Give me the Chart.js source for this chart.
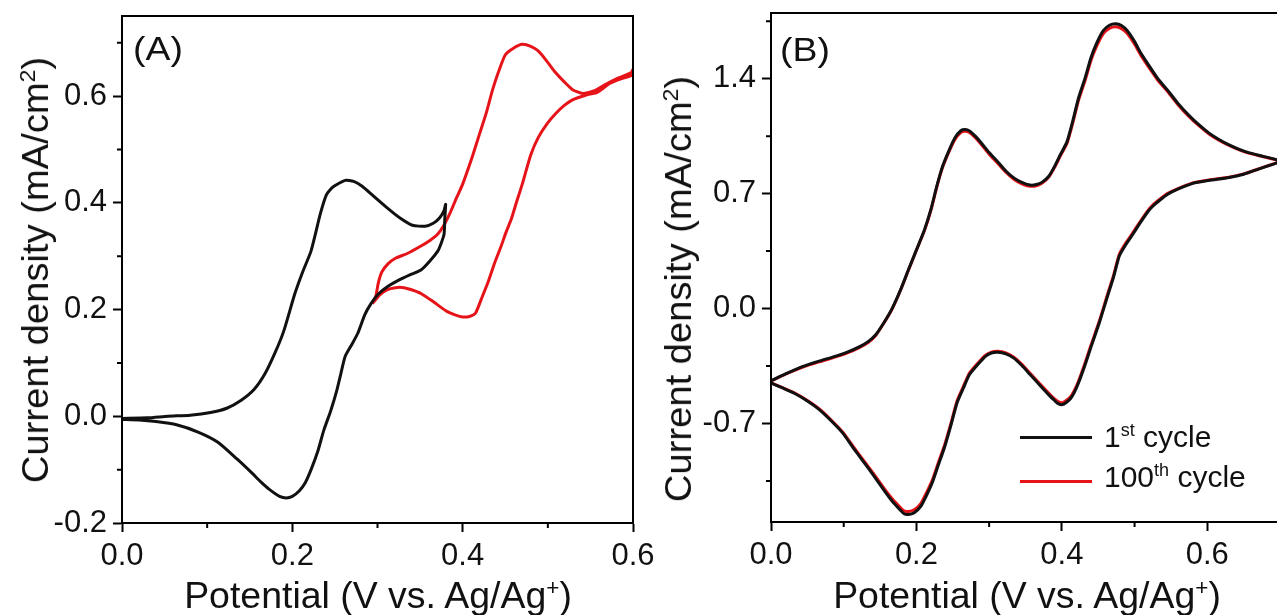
<!DOCTYPE html>
<html>
<head>
<meta charset="utf-8">
<script src="https://cdn.jsdelivr.net/npm/chart.js@4.4.0/dist/chart.umd.min.js"></script>
<style>
  html, body { margin: 0; padding: 0; width: 1277px; height: 615px; overflow: hidden; background: #fff; }
  body { position: relative; font-family: "Liberation Sans", Arial, sans-serif; color: #111; }
  canvas { position: absolute; top: 0; }
  #chartA { left: 0; }
  #chartB { left: 640px; }
  .lbl { position: absolute; white-space: nowrap; line-height: 1; }
  .title { font-size: 36px; }
  .ytitle { transform: translate(-50%, -50%) rotate(-90deg) scaleX(1.06); }
  .xtitle { transform: translate(-50%, -50%) scaleX(1.04); }
  .panel { font-size: 34px; transform: scaleX(1.1); transform-origin: left top; }
  .legend { font-size: 30px; }
  .legend .line { position: absolute; width: 72px; height: 3px; }
  sup { font-size: 60%; vertical-align: 0.6em; line-height: 0; }
</style>
</head>
<body>
<canvas id="chartA" width="680" height="615"></canvas>
<canvas id="chartB" width="645" height="615"></canvas>

<div class="lbl title ytitle" style="left:36px; top:270px;">Current density (mA/cm<sup>2</sup>)</div>
<div class="lbl title xtitle" style="left:378px; top:596px;">Potential (V vs. Ag/Ag<sup>+</sup>)</div>
<div class="lbl title ytitle" style="left:679px; top:289px;">Current density (mA/cm<sup>2</sup>)</div>
<div class="lbl title xtitle" style="left:1027px; top:596px;">Potential (V vs. Ag/Ag<sup>+</sup>)</div>
<div class="lbl panel" style="left:133px; top:31px;">(A)</div>
<div class="lbl panel" style="left:780px; top:32px;">(B)</div>

<div class="legend">
  <div class="line" style="left:1020px; top:436px; background:#111;"></div>
  <div class="lbl" style="left:1104px; top:422px;">1<sup>st</sup> cycle</div>
  <div class="line" style="left:1020px; top:480px; background:rgb(230,20,25);"></div>
  <div class="lbl" style="left:1104px; top:462px;">100<sup>th</sup> cycle</div>
</div>

<script>
// ---- panel A: potential (V) and current density (mA/cm2) ----
var potA1 = [0, 0.03, 0.054, 0.08, 0.104, 0.123, 0.14, 0.155, 0.168, 0.18, 0.19, 0.203, 0.212, 0.222, 0.233, 0.24, 0.248, 0.262, 0.272, 0.282, 0.295, 0.311, 0.326, 0.341, 0.356, 0.366, 0.373, 0.378, 0.38,
             0.379, 0.378, 0.371, 0.361, 0.351, 0.338, 0.326, 0.312, 0.301, 0.292, 0.285, 0.277, 0.27, 0.262, 0.257, 0.252, 0.245, 0.237, 0.23, 0.222, 0.215, 0.208, 0.2, 0.193, 0.185, 0.173, 0.163, 0.153, 0.135, 0.113, 0.09, 0.064, 0.04, 0.02, 0];
var curA1 = [-0.004, -0.003, 0.0, 0.002, 0.007, 0.015, 0.03, 0.05, 0.08, 0.12, 0.16, 0.23, 0.27, 0.31, 0.38, 0.415, 0.43, 0.442, 0.44, 0.431, 0.413, 0.391, 0.372, 0.358, 0.356, 0.362, 0.372, 0.385, 0.397,
             0.37, 0.34, 0.31, 0.29, 0.274, 0.265, 0.256, 0.243, 0.229, 0.21, 0.19, 0.156, 0.135, 0.112, 0.08, 0.047, 0.01, -0.026, -0.065, -0.1, -0.125, -0.14, -0.15, -0.153, -0.15, -0.137, -0.123, -0.107, -0.08, -0.049, -0.03, -0.016, -0.01, -0.007, -0.006];

var potA2 = [0.294, 0.298, 0.301, 0.305, 0.312, 0.321, 0.335, 0.35, 0.362, 0.37, 0.378, 0.385, 0.393, 0.4, 0.41, 0.42, 0.428, 0.435, 0.442, 0.45, 0.46, 0.47, 0.48, 0.489, 0.499, 0.509, 0.519, 0.529, 0.541, 0.555, 0.568, 0.583, 0.598, 0.6,
             0.6, 0.585, 0.573, 0.558, 0.545, 0.529, 0.519, 0.509, 0.499, 0.489, 0.48, 0.47, 0.463, 0.457, 0.451, 0.445, 0.437, 0.43, 0.422, 0.415, 0.408, 0.4, 0.391, 0.381, 0.366, 0.351, 0.34, 0.331, 0.321, 0.311, 0.303, 0.297, 0.294];
var curA2 = [0.211, 0.225, 0.25, 0.27, 0.285, 0.296, 0.305, 0.318, 0.33, 0.34, 0.358, 0.38, 0.41, 0.435, 0.48, 0.53, 0.57, 0.611, 0.645, 0.677, 0.69, 0.697, 0.693, 0.684, 0.665, 0.644, 0.627, 0.612, 0.605, 0.61, 0.622, 0.634, 0.644, 0.65,
             0.64, 0.632, 0.624, 0.607, 0.602, 0.593, 0.582, 0.567, 0.548, 0.523, 0.49, 0.435, 0.4, 0.369, 0.345, 0.318, 0.285, 0.252, 0.22, 0.193, 0.187, 0.186, 0.19, 0.197, 0.214, 0.23, 0.237, 0.241, 0.241, 0.237, 0.228, 0.217, 0.211];

// ---- panel B: 1st and 100th cycle ----
var potB = [0, 0.02, 0.044, 0.066, 0.088, 0.105, 0.122, 0.134, 0.144, 0.155,
            0.166, 0.178, 0.189, 0.2, 0.211, 0.22, 0.228, 0.236, 0.245, 0.253,
            0.261, 0.267, 0.273, 0.281, 0.289, 0.3, 0.312, 0.323, 0.334, 0.345,
            0.356, 0.365, 0.373, 0.382, 0.39, 0.398, 0.407, 0.415, 0.423, 0.432,
            0.44, 0.448, 0.457, 0.466, 0.474, 0.482, 0.49, 0.5, 0.509, 0.518,
            0.532, 0.546, 0.56, 0.574, 0.588, 0.602, 0.616, 0.63, 0.644, 0.658,
            0.677, 0.7,
            0.7, 0.67, 0.65, 0.63, 0.602, 0.58, 0.558, 0.545, 0.535, 0.525,
            0.518, 0.507, 0.496, 0.488, 0.479, 0.471, 0.463, 0.452, 0.44, 0.432,
            0.423, 0.417, 0.412, 0.406, 0.401, 0.395, 0.39, 0.384, 0.37, 0.356,
            0.345, 0.334, 0.323, 0.312, 0.303, 0.295, 0.285, 0.273, 0.265, 0.256,
            0.248, 0.239, 0.23, 0.222, 0.214, 0.206, 0.197, 0.189, 0.183, 0.178,
            0.167, 0.155, 0.14, 0.127, 0.113, 0.099, 0.083, 0.066, 0.05, 0.032,
            0.015, 0];
var curB1 = [-0.441, -0.398, -0.352, -0.32, -0.291, -0.265, -0.232, -0.2, -0.16, -0.088,
             -0.005, 0.112, 0.236, 0.357, 0.478, 0.605, 0.745, 0.866, 0.965, 1.04,
             1.083, 1.09, 1.082, 1.05, 1.01, 0.95, 0.893, 0.838, 0.796, 0.768,
             0.752, 0.755, 0.77, 0.806, 0.866, 0.938, 1.015, 1.142, 1.284, 1.405,
             1.527, 1.618, 1.693, 1.727, 1.735, 1.724, 1.692, 1.626, 1.553, 1.492,
             1.4, 1.327, 1.248, 1.18, 1.121, 1.07, 1.03, 0.997, 0.97, 0.948,
             0.927, 0.9,
             0.895, 0.848, 0.818, 0.798, 0.78, 0.762, 0.724, 0.695, 0.661, 0.623,
             0.588, 0.517, 0.442, 0.39, 0.32, 0.19, 0.078, -0.08, -0.235, -0.342,
             -0.452, -0.512, -0.548, -0.572, -0.585, -0.579, -0.56, -0.535, -0.468, -0.4,
             -0.347, -0.302, -0.276, -0.266, -0.271, -0.291, -0.338, -0.402, -0.48, -0.572,
             -0.702, -0.84, -0.955, -1.058, -1.137, -1.205, -1.243, -1.254, -1.25, -1.228,
             -1.175, -1.104, -1.01, -0.932, -0.848, -0.76, -0.685, -0.614, -0.563, -0.516,
             -0.482, -0.453];
var curB100 = [-0.441, -0.4, -0.357, -0.325, -0.296, -0.27, -0.236, -0.205, -0.164, -0.09,
               -0.007, 0.11, 0.234, 0.355, 0.475, 0.6, 0.74, 0.86, 0.957, 1.03,
               1.072, 1.08, 1.072, 1.04, 1.0, 0.94, 0.884, 0.83, 0.788, 0.76,
               0.745, 0.748, 0.764, 0.8, 0.86, 0.93, 1.005, 1.13, 1.27, 1.39,
               1.511, 1.6, 1.675, 1.708, 1.716, 1.705, 1.675, 1.61, 1.54, 1.48,
               1.39, 1.318, 1.24, 1.173, 1.115, 1.065, 1.025, 0.993, 0.966, 0.945,
               0.925, 0.9,
               0.895, 0.85, 0.82, 0.8, 0.783, 0.765, 0.728, 0.7, 0.667, 0.63,
               0.595, 0.525, 0.451, 0.4, 0.33, 0.2, 0.089, -0.07, -0.224, -0.33,
               -0.441, -0.5, -0.537, -0.56, -0.573, -0.567, -0.55, -0.525, -0.46, -0.393,
               -0.34, -0.296, -0.27, -0.26, -0.265, -0.284, -0.33, -0.393, -0.47, -0.561,
               -0.69, -0.827, -0.94, -1.043, -1.12, -1.188, -1.225, -1.236, -1.232, -1.212,
               -1.16, -1.092, -1.0, -0.923, -0.84, -0.754, -0.68, -0.61, -0.56, -0.513,
               -0.48, -0.453];

// ---- ticks ----
var xTicksA = [0, 0.2, 0.4, 0.6];
var xMinorA = [0.1, 0.3, 0.5];
var yTicksA = [-0.2, 0, 0.2, 0.4, 0.6];
var yMinorA = [-0.1, 0.1, 0.3, 0.5, 0.7];
var xTicksB = [0, 0.2, 0.4, 0.6];
var xMinorB = [0.1, 0.3, 0.5];
var yTicksB = [-0.7, 0, 0.7, 1.4];
var yMinorB = [-1.05, -0.35, 0.35, 1.05, 1.75];

var BLACK = '#111';
var RED = 'rgb(230,20,25)';
var FONT = '"Liberation Sans", Arial, sans-serif';

function toPoints(xs, ys) {
    var pts = [];
    for (var i = 0; i < xs.length; i++) pts.push({x: xs[i], y: ys[i]});
    return pts;
}

// frame around the plot + short minor ticks
var framePlugin = {
    id: 'framePlugin',
    afterDraw: function(chart, args, opts) {
        var ctx = chart.ctx, a = chart.chartArea;
        var xs = chart.scales.x, ys = chart.scales.y;
        ctx.save();
        ctx.strokeStyle = '#000';
        ctx.lineWidth = 2;
        ctx.strokeRect(a.left, a.top, a.right - a.left, a.bottom - a.top);
        ctx.beginPath();
        opts.minorX.forEach(function(v) {
            var p = xs.getPixelForValue(v);
            ctx.moveTo(p, a.bottom); ctx.lineTo(p, a.bottom + 5);
        });
        opts.minorY.forEach(function(v) {
            var p = ys.getPixelForValue(v);
            ctx.moveTo(a.left, p); ctx.lineTo(a.left - 5, p);
        });
        ctx.stroke();
        ctx.restore();
    }
};

function axis(min, max, ticks, afterFit) {
    return {
        type: 'linear', min: min, max: max,
        afterBuildTicks: function(s) { s.ticks = ticks.map(function(v) { return {value: v}; }); },
        afterFit: afterFit,
        border: {color: '#000', width: 2},
        grid: {drawOnChartArea: false, tickLength: 9, tickWidth: 2, tickColor: '#000'},
        ticks: {
            color: BLACK, font: {family: FONT, size: 31}, padding: 6,
            autoSkip: false, maxRotation: 0,
            callback: function(v) { return Number(v).toFixed(1); }
        }
    };
}

function makeChart(id, datasets, opts) {
    return new Chart(document.getElementById(id), {
        type: 'scatter',
        data: {datasets: datasets},
        options: {
            responsive: false,
            animation: false,
            layout: {padding: opts.padding},
            plugins: {
                legend: {display: false},
                tooltip: {enabled: false},
                framePlugin: {minorX: opts.minorX, minorY: opts.minorY}
            },
            elements: {point: {radius: 0}},
            scales: {
                x: axis(opts.xMin, opts.xMax, opts.xTicks, function(s) {
                    s.height = opts.xHeight; s.paddingLeft = 0; s.paddingRight = 0;
                }),
                y: axis(opts.yMin, opts.yMax, opts.yTicks, function(s) {
                    s.width = opts.yWidth; s.paddingTop = 0; s.paddingBottom = 0;
                })
            }
        },
        plugins: [framePlugin]
    });
}

function line(pts, color) {
    return {data: pts, showLine: true, borderColor: color, borderWidth: 3, tension: 0.2, pointRadius: 0, fill: false};
}

makeChart('chartA', [
    line(toPoints(potA1, curA1), BLACK),
    line(toPoints(potA2, curA2), RED)
], {
    padding: {top: 16, right: 47, left: 0, bottom: 0},
    xMin: 0, xMax: 0.6, yMin: -0.2, yMax: 0.75,
    xTicks: xTicksA, yTicks: yTicksA, minorX: xMinorA, minorY: yMinorA,
    xHeight: 92, yWidth: 122
});

makeChart('chartB', [
    line(toPoints(potB, curB1), BLACK),
    line(toPoints(potB, curB100), RED)
], {
    padding: {top: 13, right: 5, left: 0, bottom: 0},
    xMin: 0, xMax: 0.7, yMin: -1.3, yMax: 1.8,
    xTicks: xTicksB, yTicks: yTicksB, minorX: xMinorB, minorY: yMinorB,
    xHeight: 93, yWidth: 131
});
</script>
</body>
</html>
